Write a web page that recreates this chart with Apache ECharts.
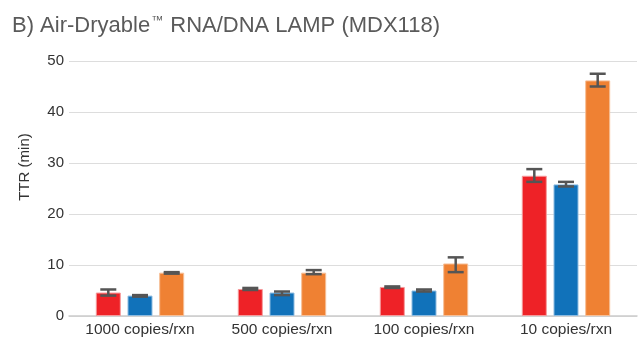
<!DOCTYPE html>
<html>
<head>
<meta charset="utf-8">
<script src="https://cdn.jsdelivr.net/npm/echarts@6/dist/echarts.min.js"></script>
<style>
  html, body { margin: 0; padding: 0; background: #fff; }
  #chart { width: 643px; height: 352px; }
</style>
</head>
<body>
<div id="chart"></div>
<script>
// categories and series (TTR in minutes)
const categories = ['1000 copies/rxn', '500 copies/rxn', '100 copies/rxn', '10 copies/rxn'];
const redVals = [4.6, 5.3, 5.7, 27.5];
const blueVals = [4.0, 4.6, 5.0, 25.8];
const orangeVals = [8.5, 8.5, 10.3, 46.2];
// error bar ranges [low, high]
const redErr = [[4.0, 5.2], [5.1, 5.5], [5.5, 5.8], [26.3, 28.8]];
const blueErr = [[3.8, 4.1], [4.1, 4.8], [4.8, 5.2], [25.4, 26.3]];
const orangeErr = [[8.3, 8.6], [8.2, 9.0], [8.6, 11.5], [45.0, 47.5]];

const barW = 25;
const barGap = 6.7;
const colors = ['#ee2227', '#1172ba', '#ef8133'];
const borders = ['#f59a9c', '#8dbbe0', '#f7bf97'];

function errSeries(errs, idx) {
  return {
    type: 'custom',
    z: 10,
    data: errs.map((e, i) => [i, e[0], e[1]]),
    renderItem: function (params, api) {
      const lo = api.coord([api.value(0), api.value(1)]);
      const hi = api.coord([api.value(0), api.value(2)]);
      const x = lo[0] + (idx - 1) * (barW + barGap);
      const cap = 8;
      const st = { stroke: '#555', lineWidth: 2.5 };
      return {
        type: 'group',
        children: [
          { type: 'line', shape: { x1: x, y1: lo[1], x2: x, y2: hi[1] }, style: st },
          { type: 'line', shape: { x1: x - cap, y1: lo[1], x2: x + cap, y2: lo[1] }, style: st },
          { type: 'line', shape: { x1: x - cap, y1: hi[1], x2: x + cap, y2: hi[1] }, style: st }
        ]
      };
    }
  };
}

function barSeries(vals, idx) {
  return {
    type: 'bar',
    data: vals,
    barWidth: barW,
    barGap: (barGap / barW * 100) + '%',
    itemStyle: { color: colors[idx], borderColor: borders[idx], borderWidth: 1 }
  };
}

const chart = echarts.init(document.getElementById('chart'));
chart.setOption({
  animation: false,
  textStyle: { fontFamily: 'Liberation Sans, Arial, sans-serif' },
  title: {
    text: 'B) Air-Dryable{tm|\u2122} RNA/DNA LAMP (MDX118)',
    left: 7,
    top: 10,
    textStyle: {
      color: '#5a5a5a', fontSize: 22, fontWeight: 'normal',
      rich: {
        tm: { fontSize: 12, color: '#5a5a5a', verticalAlign: 'top', padding: [0, 1, 0, 1] }
      }
    }
  },
  grid: { left: 69, right: 6, top: 61, bottom: 36 },
  graphic: [{
    type: 'text',
    x: 25,
    y: 167,
    rotation: Math.PI / 2,
    style: {
      text: 'TTR (min)',
      fill: '#333',
      font: '15px Liberation Sans, Arial, sans-serif',
      textAlign: 'center',
      textVerticalAlign: 'middle'
    }
  }],
  xAxis: {
    type: 'category',
    data: categories,
    axisTick: { show: false },
    axisLine: { lineStyle: { color: '#ccc', width: 1.5 } },
    axisLabel: { color: '#333', fontSize: 15.5, margin: 6, interval: 0, hideOverlap: false }
  },
  yAxis: {
    type: 'value',
    min: 0,
    max: 50,
    interval: 10,
    axisLabel: { color: '#333', fontSize: 15, margin: 5 },
    splitLine: { lineStyle: { color: '#ddd', width: 1 } }
  },
  series: [
    barSeries(redVals, 0),
    barSeries(blueVals, 1),
    barSeries(orangeVals, 2),
    errSeries(redErr, 0),
    errSeries(blueErr, 1),
    errSeries(orangeErr, 2)
  ]
});
</script>
</body>
</html>
